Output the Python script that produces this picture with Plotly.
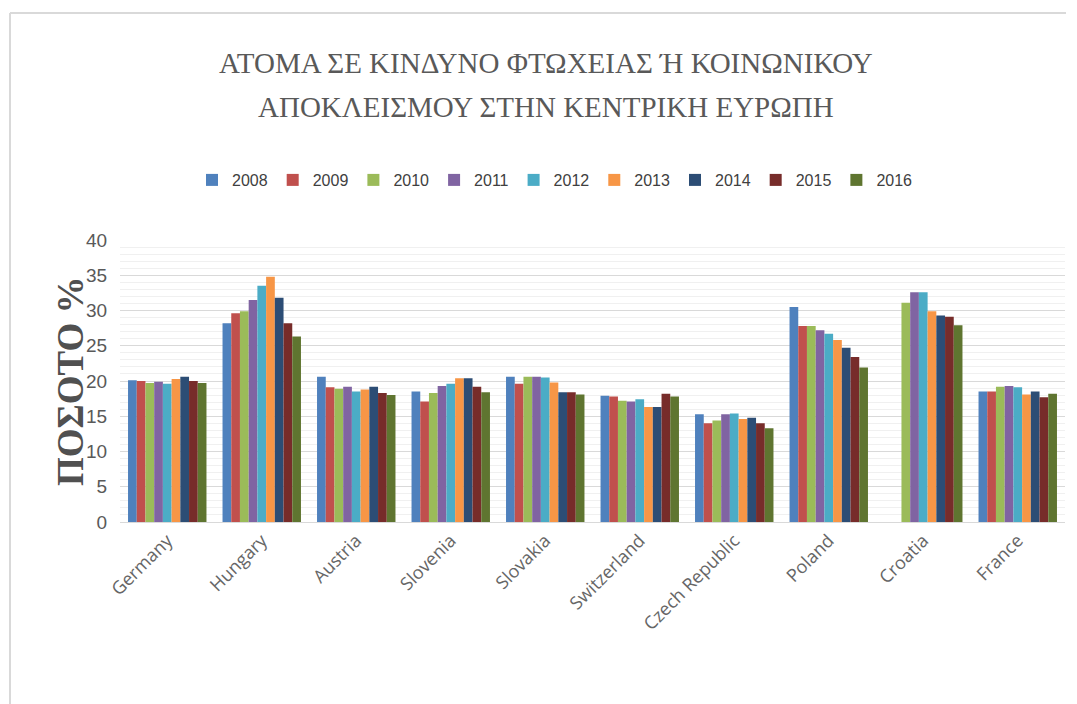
import plotly.graph_objects as go

countries = ["Germany", "Hungary", "Austria", "Slovenia", "Slovakia", "Switzerland",
             "Czech Republic", "Poland", "Croatia", "France"]
years = ["2008", "2009", "2010", "2011", "2012", "2013", "2014", "2015", "2016"]

v2008 = [20.1, 28.2, 20.6, 18.5, 20.6, 17.9, 15.3, 30.5, None, 18.5]
v2009 = [20.0, 29.6, 19.1, 17.1, 19.6, 17.8, 14.0, 27.8, None, 18.5]
v2010 = [19.7, 29.9, 18.9, 18.3, 20.6, 17.2, 14.4, 27.8, 31.1, 19.2]
v2011 = [19.9, 31.5, 19.2, 19.3, 20.6, 17.1, 15.3, 27.2, 32.6, 19.3]
v2012 = [19.6, 33.5, 18.5, 19.6, 20.5, 17.4, 15.4, 26.7, 32.6, 19.1]
v2013 = [20.3, 34.8, 18.8, 20.4, 19.8, 16.3, 14.6, 25.8, 29.9, 18.1]
v2014 = [20.6, 31.8, 19.2, 20.4, 18.4, 16.3, 14.8, 24.7, 29.3, 18.5]
v2015 = [20.0, 28.2, 18.3, 19.2, 18.4, 18.2, 14.0, 23.4, 29.1, 17.7]
v2016 = [19.7, 26.3, 18.0, 18.4, 18.1, 17.8, 13.3, 21.9, 27.9, 18.2]

title_lines = ["ΑΤΟΜΑ ΣΕ ΚΙΝΔΥΝΟ ΦΤΩΧΕΙΑΣ Ή ΚΟΙΝΩΝΙΚΟΥ",
               "ΑΠΟΚΛΕΙΣΜΟΥ ΣΤΗΝ ΚΕΝΤΡΙΚΗ ΕΥΡΩΠΗ"]
y_title = "ΠΟΣΟΤΟ %"

series = [v2008, v2009, v2010, v2011, v2012, v2013, v2014, v2015, v2016]
colors = ["#4F81BD", "#C0504D", "#9BBB59", "#8064A2", "#4BACC6",
          "#F79646", "#2C4D75", "#772C2A", "#5F7530"]

fig = go.Figure()
for yr, vals, col in zip(years, series, colors):
    fig.add_trace(go.Bar(name=yr, x=countries, y=vals, marker_color=col,
                         marker_line_width=0))

# page body has an 8px margin; compensate so the plot lands at x 120..1065, y 240..522
OFF = 8
W, H = 1077 - OFF, 704 - OFF
PL, PR, PT, PB = 120, 1065, 240, 522
ml, mr, mt, mb = PL - OFF, 1077 - PR, PT - OFF, 704 - PB
pw, ph = PR - PL, PB - PT

def px(x):
    return (x - PL) / pw

def py(y):
    return (PB - y) / ph

fig.update_layout(
    width=W, height=H,
    margin=dict(l=ml, r=mr, t=mt, b=mb),
    paper_bgcolor="white", plot_bgcolor="white",
    barmode="group", bargap=0.17, bargroupgap=0,
    legend=dict(orientation="h", x=px(555), xanchor="center",
                y=py(180), yanchor="middle",
                font=dict(family="Liberation Sans", size=16, color="#404040"),
                itemwidth=30, traceorder="normal",
                bgcolor="rgba(0,0,0,0)"),
    showlegend=True,
    annotations=[
        dict(text=title_lines[0], xref="paper", yref="paper", x=px(546), y=py(63),
             xanchor="center", yanchor="middle", showarrow=False,
             font=dict(family="Liberation Serif", size=29, color="#595959")),
        dict(text=title_lines[1], xref="paper", yref="paper", x=px(546), y=py(107),
             xanchor="center", yanchor="middle", showarrow=False,
             font=dict(family="Liberation Serif", size=29, color="#595959")),
        dict(text="<b>" + y_title + "</b>", xref="paper", yref="paper", x=px(70), y=py(381),
             xanchor="center", yanchor="middle", showarrow=False, textangle=-90,
             font=dict(family="Liberation Serif", size=37, color="#505050")),
    ],
    shapes=[
        dict(type="line", xref="paper", yref="paper", x0=px(10), x1=px(1066), y0=py(13), y1=py(13),
             line=dict(color="#D9D9D9", width=2)),
        dict(type="line", xref="paper", yref="paper", x0=px(10), x1=px(10), y0=py(13), y1=py(720),
             line=dict(color="#D9D9D9", width=2)),
    ],
)

fig.update_yaxes(range=[0, 40], dtick=5, showgrid=True, gridcolor="#D9D9D9", gridwidth=1,
                 minor=dict(dtick=1, showgrid=True, gridcolor="#F0F0F0", gridwidth=1),
                 zeroline=False, showline=False, ticks="outside", ticklen=8, tickcolor="rgba(0,0,0,0)",
                 tickfont=dict(family="Liberation Sans", size=19, color="#595959"))
fig.update_xaxes(showgrid=False, showline=True, linecolor="#D9D9D9", linewidth=1,
                 ticks="", tickangle=-45,
                 tickfont=dict(family="Open Sans", size=18, color="#666666"))

fig.write_html("out.html")
